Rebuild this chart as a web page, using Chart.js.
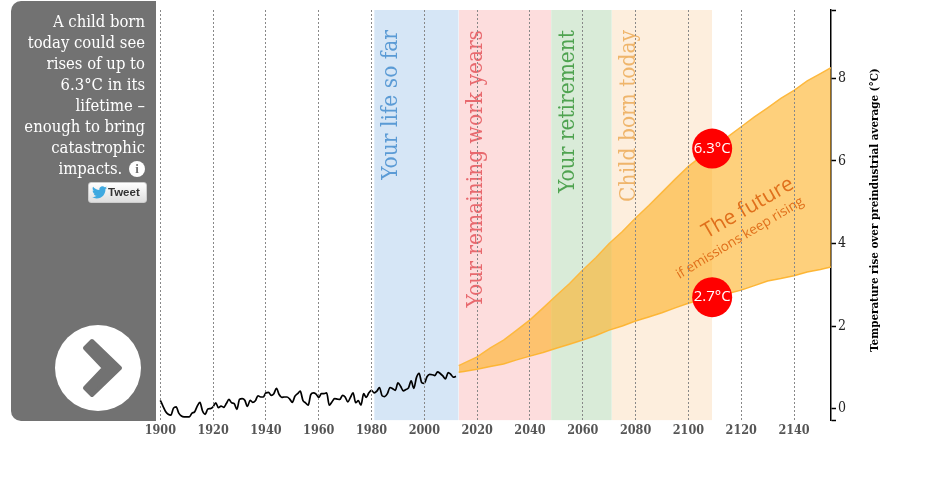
<!DOCTYPE html>
<html>
<head>
<meta charset="utf-8">
<title>Temperature rise</title>
<script src="https://cdn.jsdelivr.net/npm/chart.js@4"></script>
<style>
  body { margin: 0; background: #fff; }
  #wrap { position: relative; width: 927px; height: 478px; overflow: hidden; }
  canvas { position: absolute; left: 0; top: 0; }
  #panel {
    position: absolute; left: 11px; top: 1px; width: 145px; height: 420px;
    background: #727272; border-radius: 10px 0 0 10px; color: #fff;
  }
  #blurb {
    position: absolute; right: 11px; top: 10px; width: 140px; text-align: right;
    font: 16.5px/21px "DejaVu Serif Condensed", "DejaVu Serif", serif;
  }
  #info {
    display: inline-block; width: 16px; height: 16px; border-radius: 50%;
    background: #fff; color: #727272; font: bold 13px/16px "Liberation Serif", serif;
    text-align: center; margin-left: 2px; vertical-align: 1px;
  }
  #tweet {
    position: absolute; left: 77px; top: 181px; width: 57px; height: 19px;
    border: 1px solid #ccc; border-radius: 3px; background: linear-gradient(#fff, #dedede);
    color: #333; font: bold 11.5px/19px "Liberation Sans", sans-serif; box-sizing: content-box;
  }
  #tweet svg { position: absolute; left: 3px; top: 3px; }
  #tweet span { position: absolute; left: 19px; top: 0; }
  #next { position: absolute; left: 44px; top: 324px; }
</style>
</head>
<body>
<div id="wrap">
  <canvas id="tempChart" width="927" height="478"></canvas>
  <div id="panel">
    <div id="blurb">A child born<br>today could see<br>rises of up to<br>6.3°C in its<br>lifetime –<br>enough to bring<br>catastrophic<br>impacts. <span id="info">i</span></div>
    <div id="tweet">
      <svg width="15" height="13" viewBox="0 0 24 20"><path fill="#3fa9e0" d="M24 2.4c-.9.4-1.8.7-2.8.8 1-.6 1.8-1.6 2.2-2.7-1 .6-2 1-3.100 1.200C19.300.7 18 0 16.600 0c-2.700 0-4.900 2.200-4.900 4.900 0 .4 0 .8.100 1.100C7.700 5.800 4.100 3.800 1.700.9 1.200 1.600 1 2.500 1 3.400c0 1.700.9 3.200 2.200 4.100-.8 0-1.600-.2-2.200-.6v.1c0 2.400 1.700 4.400 3.900 4.800-.7.200-1.500.2-2.200.1.600 2 2.400 3.400 4.600 3.400-1.700 1.300-3.800 2.100-6.100 2.100-.4 0-.8 0-1.200-.1 2.200 1.400 4.800 2.200 7.500 2.200 9.100 0 14-7.500 14-14v-.6c1-.7 1.800-1.600 2.500-2.500z"/></svg>
      <span>Tweet</span>
    </div>
    <svg id="next" width="86" height="86" viewBox="0 0 86 86">
      <circle cx="43" cy="43" r="43" fill="#fff"/>
      <path d="M30 23 L37 16 L65 43 L37 70 L30 63 L49 43 Z" fill="#727272" stroke="#727272" stroke-width="4" stroke-linejoin="round"/>
    </svg>
  </div>
</div>
<script>
const histYears = [];
for (let y = 1900; y <= 2012; y++) histYears.push(y);
const histValues = [
  0.20, 0.06, -0.07, -0.14, -0.16, 0.01, 0.04, -0.11, -0.18, -0.20,
  -0.20, -0.20, -0.11, -0.08, 0.06, 0.15, -0.06, -0.14, -0.01, 0.00,
  0.04, 0.14, 0.02, 0.06, 0.03, 0.12, 0.22, 0.14, 0.12, -0.02,
  0.22, 0.24, 0.20, 0.05, 0.20, 0.15, 0.19, 0.31, 0.28, 0.28,
  0.38, 0.39, 0.32, 0.36, 0.49, 0.34, 0.27, 0.28, 0.28, 0.23,
  0.15, 0.30, 0.36, 0.42, 0.20, 0.14, 0.08, 0.34, 0.38, 0.35,
  0.27, 0.36, 0.36, 0.38, 0.08, 0.16, 0.24, 0.23, 0.22, 0.32,
  0.28, 0.16, 0.27, 0.38, 0.14, 0.19, 0.08, 0.36, 0.27, 0.38,
  0.44, 0.38, 0.42, 0.51, 0.31, 0.29, 0.36, 0.51, 0.48, 0.44,
  0.62, 0.54, 0.43, 0.46, 0.50, 0.67, 0.49, 0.75, 0.85, 0.63,
  0.61, 0.77, 0.83, 0.82, 0.80, 0.89, 0.85, 0.79, 0.72, 0.87,
  0.83, 0.76, 0.78
];

// projection range
const futureYears = [2013, 2015, 2020, 2025, 2030, 2035, 2040, 2045, 2050, 2055, 2060, 2065, 2070, 2075, 2080, 2085, 2090, 2095, 2100, 2105, 2109, 2115, 2120, 2125, 2130, 2135, 2140, 2145, 2150, 2154];
const futureHigh = [1.04, 1.10, 1.25, 1.47, 1.66, 1.90, 2.15, 2.44, 2.74, 3.03, 3.36, 3.66, 4.00, 4.29, 4.62, 4.92, 5.24, 5.56, 5.87, 6.12, 6.30, 6.59, 6.83, 7.07, 7.29, 7.52, 7.71, 7.94, 8.12, 8.26];
const futureLow = [0.88, 0.90, 0.95, 1.02, 1.08, 1.18, 1.27, 1.36, 1.46, 1.56, 1.66, 1.77, 1.90, 2.00, 2.12, 2.22, 2.32, 2.44, 2.55, 2.64, 2.70, 2.79, 2.87, 2.98, 3.09, 3.15, 3.22, 3.31, 3.37, 3.43];

// life stages
const bandNames = ["Your life so far", "Your remaining work years", "Your retirement", "Child born today"];
const bandStart = [1981, 2013, 2048, 2071];
const bandEnd = [2013, 2048, 2071, 2109];
const bandFill = ["#d6e6f6", "#fddddd", "#d9ebd8", "#fdeedd"];
const bandInk = ["#5b9bd5", "#e8696e", "#4fa350", "#efb56b"];

const markerYear = [2109, 2109];
const markerValue = [6.3, 2.7];

const xTicks = [1900, 1920, 1940, 1960, 1980, 2000, 2020, 2040, 2060, 2080, 2100, 2120, 2140];
const yTicks = [0, 2, 4, 6, 8];
const xMin = 1898.75, xMax = 2154;
const yMin = -0.29, yMax = 9.66;

const serif = '"DejaVu Serif Condensed", "DejaVu Serif", serif';
const sans = '"Open Sans", "Noto Sans", sans-serif';

const xy = (xs, ys) => xs.map((x, i) => ({ x: x, y: ys[i] }));

const datasets = [
  {
    data: xy(markerYear, markerValue), showLine: false,
    pointRadius: 20, pointHoverRadius: 20, pointBackgroundColor: "#ff0000", pointBorderWidth: 0,
  },
  {
    data: xy(histYears, histValues), borderColor: "#000", borderWidth: 1.7,
    pointRadius: 0, cubicInterpolationMode: "monotone", fill: false,
  },
  {
    data: xy(futureYears, futureHigh), borderColor: "#fdb93f", borderWidth: 1.5,
    backgroundColor: "rgba(253,177,37,0.6)", pointRadius: 0, fill: "+1",
  },
  {
    data: xy(futureYears, futureLow), borderColor: "#fdb93f", borderWidth: 1.5,
    pointRadius: 0, fill: false,
  },
];
bandNames.forEach((name, i) => {
  datasets.push({
    data: xy([bandStart[i], bandEnd[i]], [yMax, yMax]),
    borderWidth: 0, pointRadius: 0, backgroundColor: bandFill[i], fill: "start",
  });
});

// text that sits inside the plot
const chartText = {
  id: "chartText",
  afterDatasetsDraw(chart) {
    const ctx = chart.ctx;
    const x = chart.scales.x, y = chart.scales.y;

    const put = (txt, px, py, angle, font, color, align) => {
      ctx.save();
      ctx.translate(px, py);
      ctx.rotate(angle * Math.PI / 180);
      ctx.font = font;
      ctx.fillStyle = color;
      ctx.textAlign = align || "center";
      ctx.textBaseline = "middle";
      ctx.fillText(txt, 0, 0);
      ctx.restore();
    };

    bandNames.forEach((name, i) => {
      put(name, x.getPixelForValue(bandStart[i]) + 17, 30, -90, "22.5px " + serif, bandInk[i], "right");
    });
    markerValue.forEach((v, i) => {
      put(v + "°C", x.getPixelForValue(markerYear[i]), y.getPixelForValue(v), 0, "15px " + sans, "#fff");
    });
    put("The future", 748, 208, -30, "21px " + sans, "#e0701c");
    put("if emissions keep rising", 740, 238, -31, "13.5px " + sans, "#e0701c");
    put("Temperature rise over preindustrial average (°C)", 875, 210, -90, "bold 11.5px " + serif, "#000");
  },
};

const tempChart = new Chart(document.getElementById("tempChart"), {
  type: "line",
  data: { datasets: datasets },
  plugins: [chartText],
  options: {
    responsive: false,
    animation: false,
    layout: { autoPadding: false, padding: { left: 157, top: 10 } },
    plugins: { legend: { display: false }, tooltip: { enabled: false } },
    scales: {
      x: {
        type: "linear", min: xMin, max: xMax,
        afterBuildTicks: (s) => { s.ticks = xTicks.map((v) => ({ value: v })); },
        afterFit: (s) => { s.height = 57.5; s.paddingLeft = 0; s.paddingRight = 0; },
        grid: { color: "#888", lineWidth: 1, drawTicks: false, z: 1 },
        border: { display: false, dash: [2, 2] },
        ticks: {
          autoSkip: false, maxRotation: 0, padding: 3, color: "#555",
          font: { family: serif, size: 12.5, weight: "bold" },
          callback: (v) => String(v),
        },
      },
      y: {
        type: "linear", position: "right", min: yMin, max: yMax,
        afterBuildTicks: (s) => { s.ticks = [yMin].concat(yTicks, [yMax]).map((v) => ({ value: v })); },
        afterFit: (s) => { s.width = 96; s.paddingTop = 0; s.paddingBottom = 0; },
        grid: { drawOnChartArea: false, color: "#000", tickLength: 5, tickWidth: 1.5 },
        border: { color: "#000", width: 1.5 },
        ticks: {
          autoSkip: false, padding: 2, color: "#222",
          font: { family: serif, size: 14 },
          callback: (v) => (yTicks.includes(v) ? String(v) : ""),
        },
      },
    },
  },
});
</script>
</body>
</html>
